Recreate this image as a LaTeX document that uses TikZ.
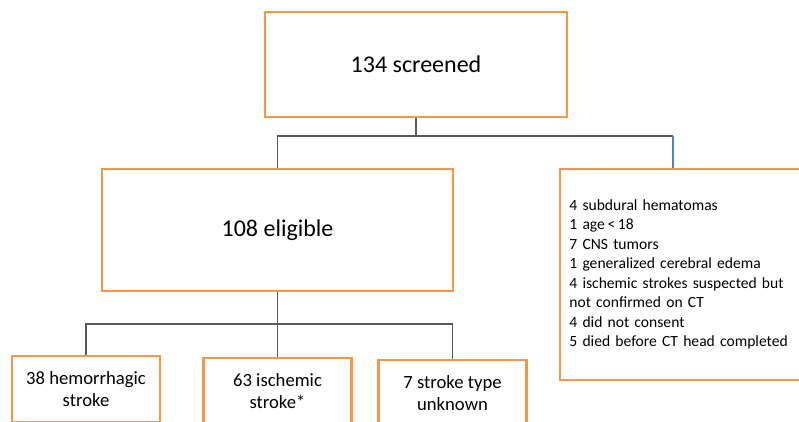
\documentclass[tikz,border=0pt]{standalone}
\usepackage{fontspec}
\setmainfont{Carlito}
\usetikzlibrary{positioning}
\definecolor{boxorange}{RGB}{247,150,70}
\definecolor{linegray}{RGB}{89,89,89}
\definecolor{lineblue}{RGB}{79,129,189}

\begin{document}
\begin{tikzpicture}[%
    x = 0.75pt,
    y = -0.75pt,
    every node/.style = {%
      text = black },
    flowbox/.style = {%
      draw = boxorange,
      line width = 1.6pt,
      fill = white,
      inner sep = 0pt,
      align = center },
    bigbox/.style = {%
      flowbox,
      font = \fontsize{18}{21}\selectfont },
    smallbox/.style = {%
      flowbox,
      minimum width = 111pt,
      minimum height = 49.5pt,
      font = \fontsize{14}{16.5}\selectfont },
    conn/.style = {%
      draw = linegray,
      line width = 1pt }
  ]

\useasboundingbox (0,0) rectangle (799,421);
\clip (0,0) rectangle (799,421);

\node[bigbox, minimum width=226.5pt, minimum height=78.75pt] (screened) at (416,64.5) {134 screened};
\node[bigbox, minimum width=263.25pt, minimum height=91.5pt] (eligible) at (277.5,230) {108 eligible};
\node[flowbox, anchor=west, minimum width=195pt, minimum height=158.25pt,
      text width=188pt, align=left, inner xsep=7pt,
      font=\fontsize{11.7}{14.6}\selectfont] (excluded) at (559,274.5)
  {4 subdural hematomas\\
   1 age\,<\,18\\
   7 CNS tumors\\
   1 generalized cerebral edema\\
   4 ischemic strokes suspected but\\
   not confirmed on CT\\
   4 did not consent\\
   5 died before CT head completed};

\node[smallbox] (hemo) at (86,389) {38 hemorrhagic\\stroke};
\node[smallbox] (isch) at (277.5,391) {63 ischemic\\stroke*};
\node[smallbox] (unkn) at (452.5,393) {7 stroke type\\unknown};

% top split
\coordinate (topbar) at (673,136);
\draw[conn] (screened.south) -- (screened.south |- topbar);
\draw[conn] (eligible.north) |- (topbar);
\draw[draw=lineblue, line width=1pt] (topbar) -- (topbar |- excluded.north);

% stroke types
\coordinate (lowbar) at (0,324);
\draw[conn] (eligible.south) -- (isch.north);
\draw[conn] (hemo.north) |- (lowbar -| unkn.north) -- (unkn.north);

\end{tikzpicture}
\end{document}
